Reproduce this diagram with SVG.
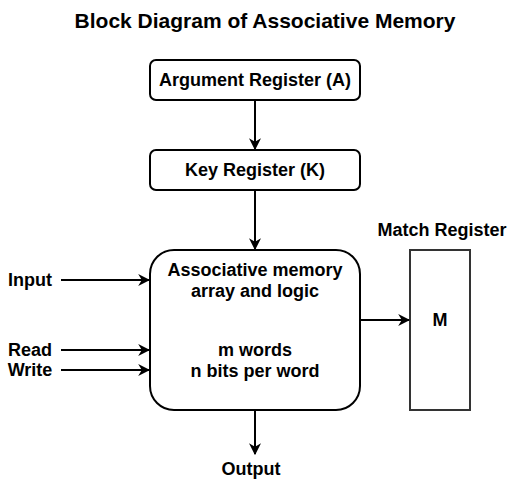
<svg xmlns="http://www.w3.org/2000/svg" width="531" height="481" viewBox="0 0 531 481">
<style>
text{font-family:"Liberation Sans",Arial,sans-serif;font-weight:bold;font-size:18px;fill:#000;text-anchor:middle;dominant-baseline:central}
.box{fill:#fff;stroke:#000;stroke-width:2}
.conn{stroke:#000;stroke-width:2;fill:none;marker-end:url(#ah)}
</style>
<defs>
<marker id="ah" viewBox="0 0 10 10" refX="9" refY="5" markerWidth="12" markerHeight="12" markerUnits="userSpaceOnUse" orient="auto">
<path d="M0,0 L10,5 L0,10 L3,5 Z" fill="#000"/>
</marker>
</defs>
<rect width="531" height="481" fill="#fff"/>
<text x="265" y="20" style="font-size:21px">Block Diagram of Associative Memory</text>
<g id="argument"><rect class="box" x="150" y="60" width="210" height="40" rx="6"/><text x="255" y="80">Argument Register (A)</text></g>
<g id="key"><rect class="box" x="150" y="150" width="210" height="40" rx="6"/><text x="255" y="170">Key Register (K)</text></g>
<g id="memory"><rect class="box" x="150" y="250" width="210" height="160" rx="24"/>
<text x="255" y="270">Associative memory</text><text x="255" y="291">array and logic</text>
<text x="255" y="350">m words</text><text x="255" y="371">n bits per word</text></g>
<g id="match"><text x="442" y="230">Match Register</text><rect x="410" y="250" width="60" height="160" fill="#fff" stroke="#333" stroke-width="2"/><text x="440" y="320">M</text></g>
<g id="labels"><text x="30" y="280">Input</text><text x="30" y="350">Read</text><text x="30" y="370">Write</text><text x="251" y="469">Output</text></g>
<g id="connectors">
<line class="conn" x1="255" y1="100" x2="255" y2="149"/>
<line class="conn" x1="255" y1="190" x2="255" y2="249"/>
<line class="conn" x1="61" y1="280" x2="149" y2="280"/>
<line class="conn" x1="61" y1="350" x2="149" y2="350"/>
<line class="conn" x1="61" y1="370" x2="149" y2="370"/>
<line class="conn" x1="360" y1="320" x2="409" y2="320"/>
<line class="conn" x1="255" y1="410" x2="255" y2="454"/>
</g>
</svg>
